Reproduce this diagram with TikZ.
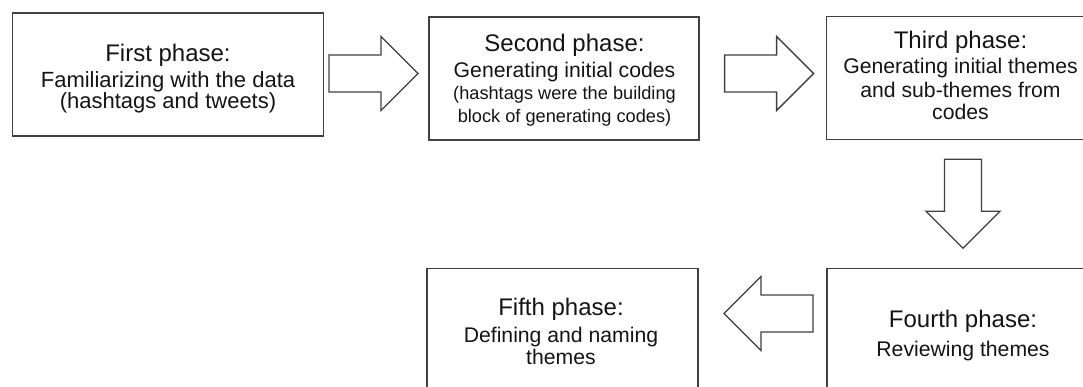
\documentclass[tikz,border=0pt]{standalone}
\usepackage{fontspec}
\setmainfont{Liberation Sans}
\newcommand\phasetitle{\fontsize{24}{28}\selectfont}
\newcommand\phasetext{\fontsize{21.2}{25}\selectfont}
\newcommand\phasetextb{\fontsize{22}{26}\selectfont}
\newcommand\phasesmall{\fontsize{18.2}{22}\selectfont}
\tikzset{
  phasebox/.style={draw=black!75, line width=1.4pt, minimum height=123, inner sep=0pt},
  ln/.style={anchor=base, inner sep=0pt, text=black!92},
  arrowline/.style={draw=black!75, line width=1.3pt, line join=miter, fill=white},
  barrow/.pic={\path[arrowline] (0,-18.5) -- (52,-18.5) -- (52,-37) -- (89,0) -- (52,37) -- (52,18.5) -- (0,18.5) -- cycle;}
}
\begin{document}
\begin{tikzpicture}[x=1pt,y=-1pt]
\useasboundingbox (0,0) rectangle (1083,387);
\clip (0,0) rectangle (1083,387);
% boxes
\node[phasebox, minimum width=311] (b1) at (168,74.5) {};
\node[phasebox, minimum width=270] (b2) at (564,78.5) {};
\node[phasebox, minimum width=273] (b3) at (963,78.3) {};
\node[phasebox, minimum width=272] (b4) at (963,330) {};
\node[phasebox, minimum width=271] (b5) at (562.5,330) {};
% texts
\node[ln, font=\phasetitle] (t1a) at (168,61.5) {First phase:};
\node[ln, font=\phasetextb] (t1b) at (168,87.5) {Familiarizing with the data};
\node[ln, font=\phasetextb] (t1c) at (168,109) {(hashtags and tweets)};
\node[ln, font=\phasetitle] (t2a) at (564.5,51.7) {Second phase:};
\node[ln, font=\phasetext] (t2b) at (564.5,77.3) {Generating initial codes};
\node[ln, font=\phasesmall] (t2c) at (564.5,100) {(hashtags were the building};
\node[ln, font=\phasesmall] (t2d) at (564.5,123) {block of generating codes)};
\node[ln, font=\phasetitle] (t3a) at (960.5,48.3) {Third phase:};
\node[ln, font=\phasetext] (t3b) at (960.5,73.3) {Generating initial themes};
\node[ln, font=\phasetext] (t3c) at (960.5,97.3) {and sub-themes from};
\node[ln, font=\phasetext] (t3d) at (960.5,120) {codes};
\node[ln, font=\phasetitle] (t4a) at (963,327) {Fourth phase:};
\node[ln, font=\phasetext] (t4b) at (963,356) {Reviewing themes};
\node[ln, font=\phasetitle] (t5a) at (561,315) {Fifth phase:};
\node[ln, font=\phasetext] (t5b) at (561,342) {Defining and naming};
\node[ln, font=\phasetext] (t5c) at (561,364) {themes};
% block arrows
\coordinate (a1) at (329,73.5);
\coordinate (a2) at (724.6,73.5);
\coordinate (a3) at (963,159.3);
\coordinate (a4) at (813,313.5);
\pic at (a1) {barrow};
\pic at (a2) {barrow};
\pic[rotate=-90] at (a3) {barrow};
\pic[rotate=180] at (a4) {barrow};
\end{tikzpicture}
\end{document}
